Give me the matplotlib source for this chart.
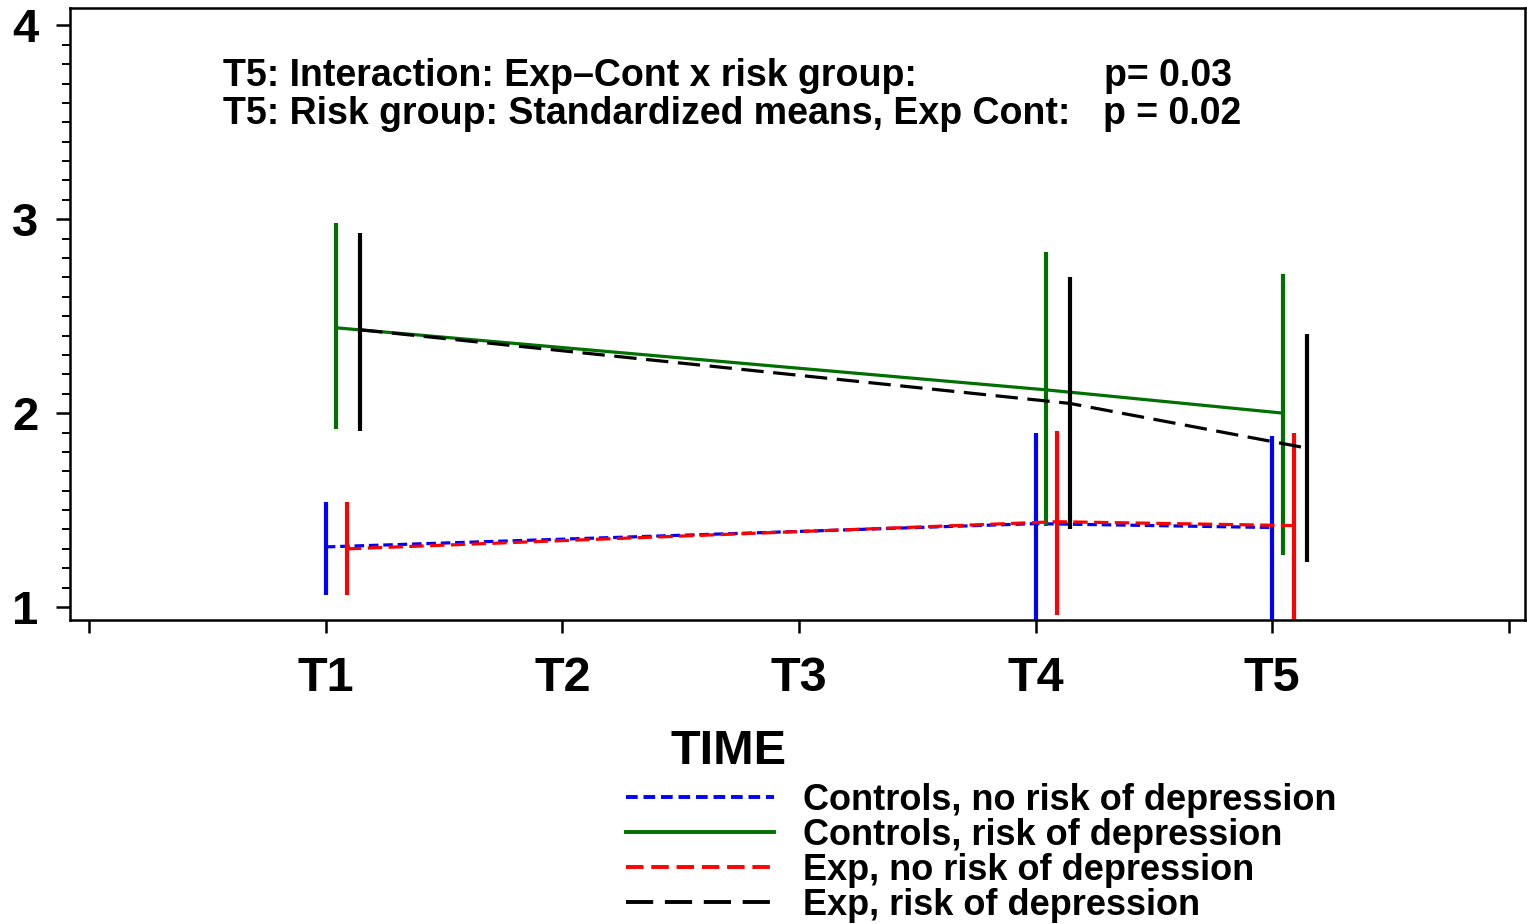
import matplotlib
matplotlib.use('Agg')
import matplotlib.pyplot as plt
from matplotlib.lines import Line2D
from matplotlib.ticker import MultipleLocator

# data
times = [1, 4, 5]
time_labels = ['T1', 'T2', 'T3', 'T4', 'T5']
groups = ['Controls, no risk of depression', 'Controls, risk of depression',
          'Exp, no risk of depression', 'Exp, risk of depression']

ctrl_norisk_mean = [1.31, 1.43, 1.41]
ctrl_norisk_low = [1.06, 0.90, 0.90]
ctrl_norisk_high = [1.54, 1.90, 1.88]

ctrl_risk_mean = [2.44, 2.12, 2.00]
ctrl_risk_low = [1.92, 1.42, 1.27]
ctrl_risk_high = [2.98, 2.83, 2.72]

exp_norisk_mean = [1.30, 1.44, 1.42]
exp_norisk_low = [1.06, 0.96, 0.90]
exp_norisk_high = [1.54, 1.91, 1.90]

exp_risk_mean = [2.43, 2.05, 1.82]
exp_risk_low = [1.91, 1.40, 1.23]
exp_risk_high = [2.93, 2.70, 2.41]

means = [ctrl_norisk_mean, ctrl_risk_mean, exp_norisk_mean, exp_risk_mean]
lows = [ctrl_norisk_low, ctrl_risk_low, exp_norisk_low, exp_risk_low]
highs = [ctrl_norisk_high, ctrl_risk_high, exp_norisk_high, exp_risk_high]

colors = ['#0000ff', '#007000', '#ff0000', '#000000']
styles = [(0, (3, 1.5)), '-', (0, (4.5, 2)), (0, (7, 3))]
offsets = [0.0, 0.045, 0.09, 0.145]

plt.rcParams['font.family'] = ['Liberation Sans', 'DejaVu Sans']

fig = plt.figure(figsize=(15.27, 9.24), dpi=100)
ax = fig.add_axes([0.046, 0.329, 0.953, 0.662])

handles = []
for m, lo, hi, c, ls, off in zip(means, lows, highs, colors, styles, offsets):
    xs = [t + off for t in times]
    ax.plot(xs, m, color=c, linestyle=ls, linewidth=2.3)
    ax.vlines(xs, lo, hi, color=c, linewidth=3)
    handles.append(Line2D([], [], color=c, linestyle=ls, linewidth=2.8))

ax.set_xlim(-0.08, 6.07)
ax.set_ylim(0.933, 4.088)
ax.set_xticks(range(0, 7))
ax.set_xticklabels([''] + time_labels + [''])
ax.set_yticks([1, 2, 3, 4])
ax.yaxis.set_minor_locator(MultipleLocator(0.1))

ax.tick_params(axis='x', length=9, width=1.8, pad=17, labelsize=35)
ax.tick_params(axis='y', which='major', length=10, width=1.8, pad=13, labelsize=34)
ax.tick_params(axis='y', which='minor', length=6, width=1.4)
for lab in ax.get_xticklabels() + ax.get_yticklabels():
    lab.set_fontweight('bold')
for sp in ax.spines.values():
    sp.set_linewidth(1.8)

ax.text(0.1053, 0.889, 'T5: Interaction: Exp\u2013Cont x risk group:', transform=ax.transAxes,
        fontsize=27, fontweight='bold', va='center')
ax.text(0.7105, 0.889, 'p= 0.03', transform=ax.transAxes,
        fontsize=27, fontweight='bold', va='center')
ax.text(0.1053, 0.827, 'T5: Risk group: Standardized means, Exp Cont:', transform=ax.transAxes,
        fontsize=27, fontweight='bold', va='center')
ax.text(0.7095, 0.827, 'p = 0.02', transform=ax.transAxes,
        fontsize=27, fontweight='bold', va='center')

fig.text(729 / 1527, 1 - 752 / 924, 'TIME', fontsize=35, fontweight='bold',
         ha='center', va='center')

leg = fig.legend(handles, groups, loc='upper left', bbox_to_anchor=(626 / 1527, 1 - 783 / 924),
                 frameon=False, fontsize=26, handlelength=4.1, handletextpad=0.8,
                 labelspacing=0.0, borderpad=0, borderaxespad=0)
for t in leg.get_texts():
    t.set_fontweight('bold')

fig.savefig('out.png', dpi=100)
